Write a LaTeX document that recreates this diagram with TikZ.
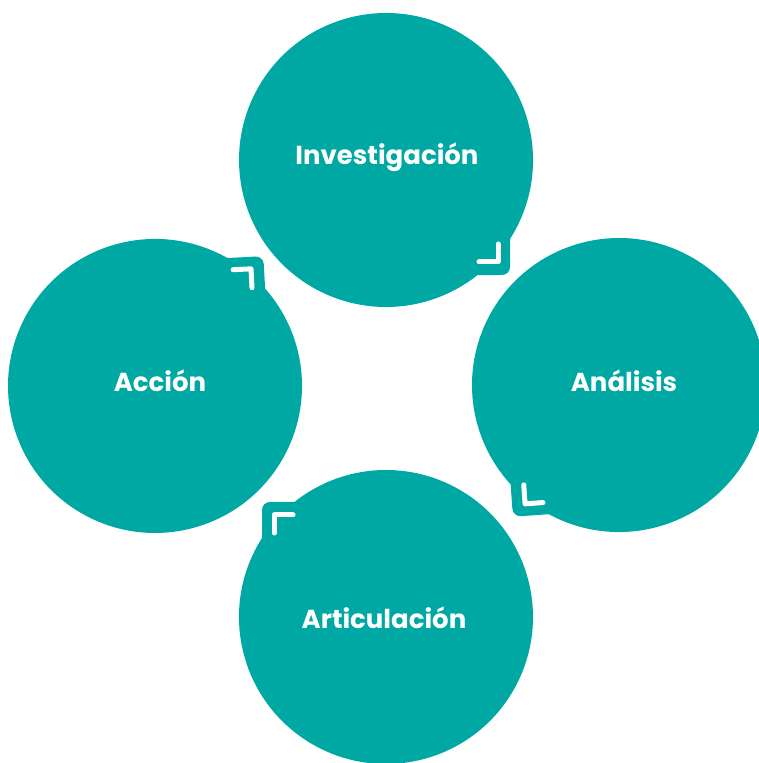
\documentclass[tikz,border=0pt]{standalone}
\usepackage{fontspec}
\setmainfont{Poppins}
\definecolor{bubbleteal}{RGB}{0,168,164}

\tikzset{
  % circle with one square corner, corner bottom right
  bubble/.pic={
    \fill[bubbleteal] (124,-79) arc[start angle=-32.5, end angle=308.5, radius=147]
      -- (116,-115) arc[start angle=-90, end angle=0, radius=8] -- cycle;
    \draw[white, line width=5pt, line cap=round, line join=round]
      (112,-84) -- (112,-102) -- (93,-102);
  },
  bubbletext/.style={text=white, anchor=base, font=\bfseries\fontsize{26}{30}\selectfont}
}

\begin{document}
\begin{tikzpicture}[x=1pt, y=1pt]
    \useasboundingbox (0,0) rectangle (759,763);
    \clip (0,0) rectangle (759,763);

    % Investigacion
    \pic at (386,603) {bubble};
    \node[bubbletext] (inv) at (387,598) {Investigación};

    % Analisis
    \pic[rotate=-86] at (619,378) {bubble};
    \node[bubbletext] (ana) at (624,371) {Análisis};

    % Articulacion
    \pic[rotate=180] at (386,146) {bubble};
    \node[bubbletext] (art) at (384,134) {Articulación};

    % Accion
    \pic[rotate=93] at (155,377) {bubble};
    \node[bubbletext] (acc) at (160,371) {Acción};
\end{tikzpicture}
\end{document}
